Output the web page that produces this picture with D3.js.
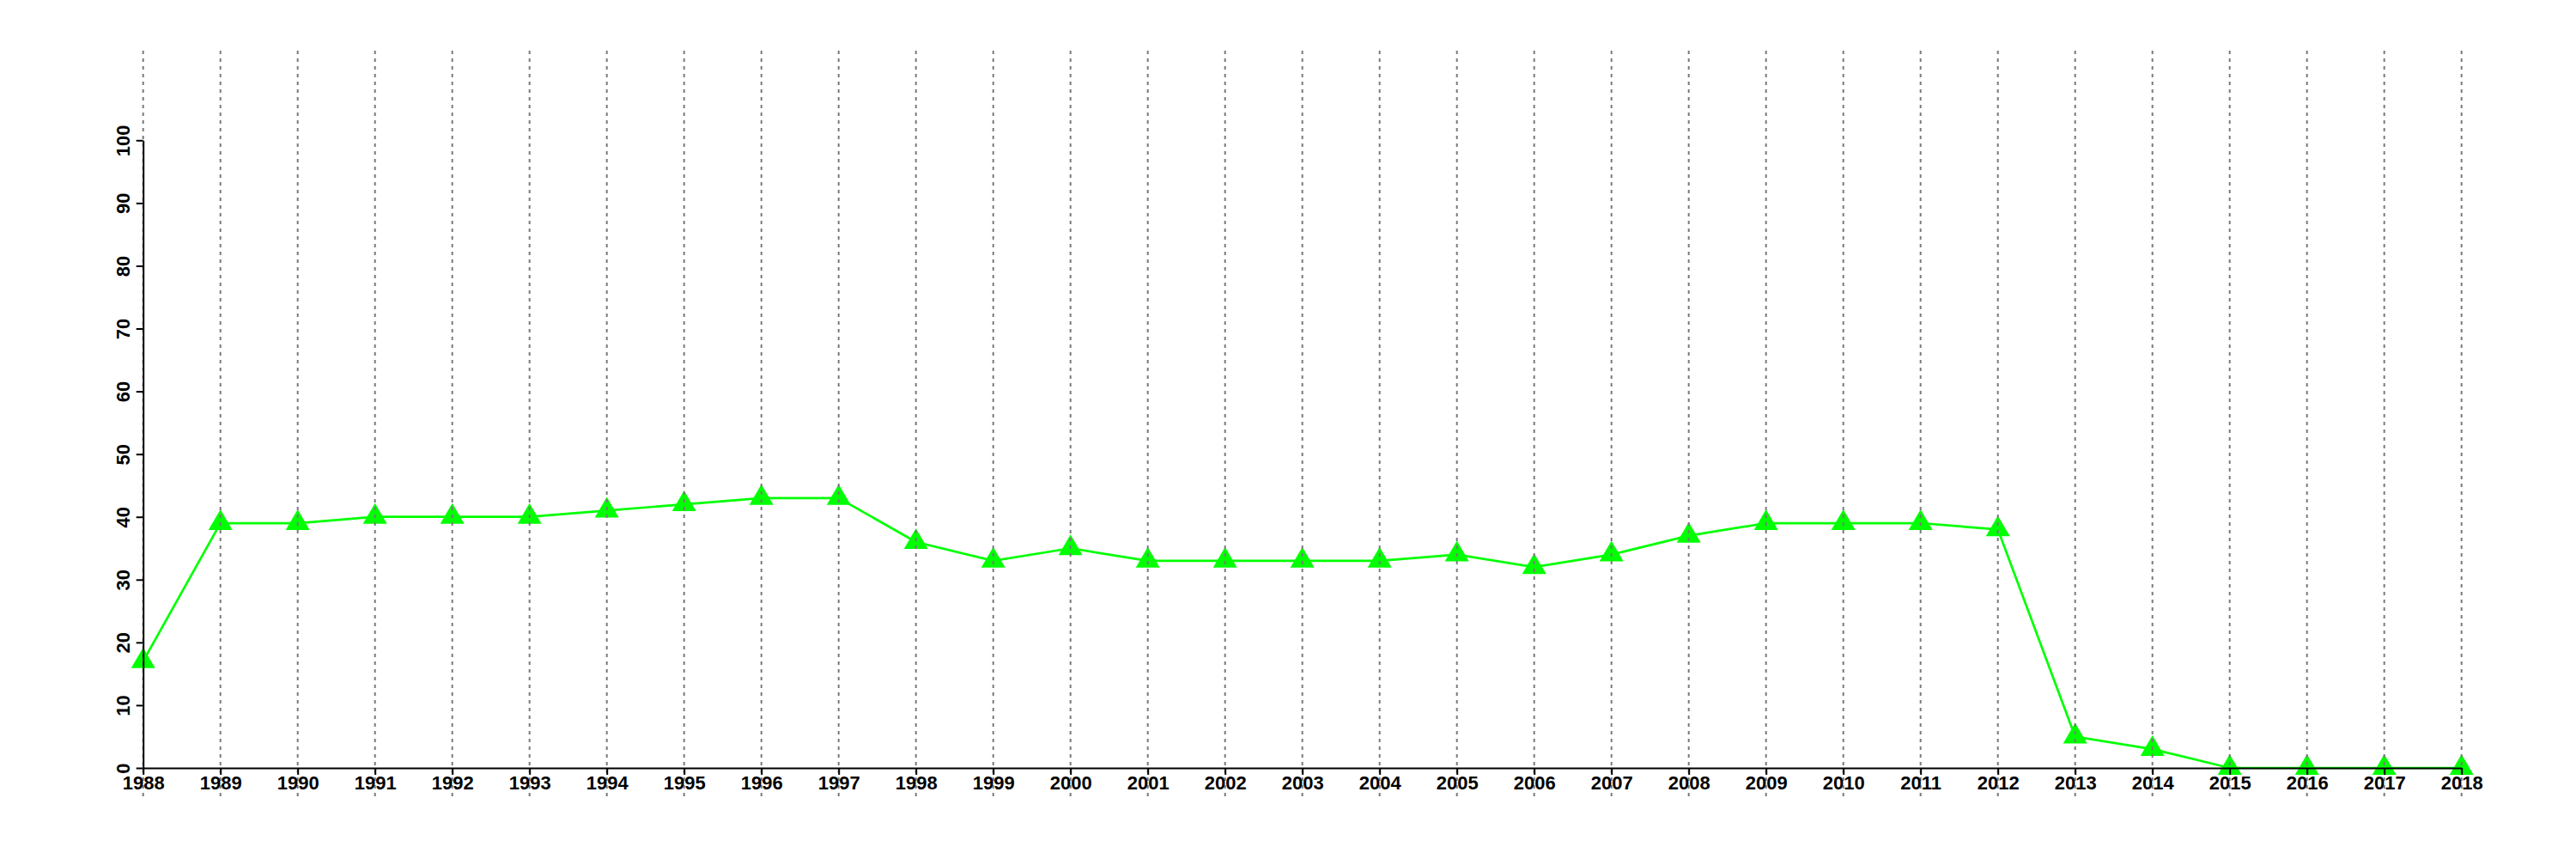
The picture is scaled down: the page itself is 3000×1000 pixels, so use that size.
<!DOCTYPE html>
<html><head><meta charset="utf-8">
<script src="https://cdn.jsdelivr.net/npm/d3@7"></script>
<style>body{margin:0;background:#fff}</style>
</head><body>
<script>
const years = [1988,1989,1990,1991,1992,1993,1994,1995,1996,1997,1998,1999,2000,2001,2002,2003,2004,2005,2006,2007,2008,2009,2010,2011,2012,2013,2014,2015,2016,2017,2018];
const values = [17,39,39,40,40,40,41,42,43,43,36,33,35,33,33,33,33,34,32,34,37,39,39,39,38,5,3,0,0,0,0];
const yTicks = [0,10,20,30,40,50,60,70,80,90,100];

const W = 3000, H = 1000;
const svg = d3.select("body").append("svg").attr("width", W).attr("height", H);
const x = d3.scaleLinear().domain([1988, 2018]).range([166.7, 2866.7]);
const y = d3.scaleLinear().domain([0, 100]).range([894, 163.3]);
const font = "'Liberation Sans', Arial, Helvetica, sans-serif";

// line
svg.append("path").datum(years.map((d, i) => [d, values[i]]))
  .attr("fill", "none").attr("stroke", "#00ff00").attr("stroke-width", 2.7)
  .attr("d", d3.line().x(d => x(d[0])).y(d => y(d[1])));

// triangles
const tw = 28, th = 24;
svg.append("g").selectAll("path").data(years.map((d, i) => [d, values[i]])).join("path")
  .attr("fill", "#00ff00")
  .attr("d", d => {
    const cx = x(d[0]), cy = y(d[1]);
    return `M${cx},${cy - th * 2 / 3}L${cx + tw / 2},${cy + th / 3}L${cx - tw / 2},${cy + th / 3}Z`;
  });

// gridlines
svg.append("g").selectAll("line").data(years).join("line")
  .attr("x1", d => x(d)).attr("x2", d => x(d))
  .attr("y1", 59).attr("y2", 928)
  .attr("stroke", "#7a7a7a").attr("stroke-width", 2).attr("stroke-dasharray", "4,5");

// x axis
const xa = svg.append("g").attr("transform", "translate(0,894)")
  .call(d3.axisBottom(x).tickValues(years).tickFormat(d3.format("d")).tickSize(8).tickSizeOuter(0));
xa.select(".domain").attr("stroke", "#000").attr("stroke-width", 2);
xa.selectAll(".tick line").attr("stroke", "#000").attr("stroke-width", 2);
xa.selectAll(".tick text").attr("font-family", font).attr("font-size", 22).attr("font-weight", "bold")
  .attr("fill", "#000").attr("y", 9).attr("dy", "0.71em");

// y axis
const ya = svg.append("g").attr("transform", "translate(166.7,0)")
  .call(d3.axisLeft(y).tickValues(yTicks).tickSize(8).tickSizeOuter(0));
ya.select(".domain").attr("stroke", "#000").attr("stroke-width", 2);
ya.selectAll(".tick line").attr("stroke", "#000").attr("stroke-width", 2);
ya.selectAll(".tick text").attr("font-family", font).attr("font-size", 22).attr("font-weight", "bold")
  .attr("fill", "#000").attr("x", 0).attr("dy", 0)
  .attr("text-anchor", "middle")
  .attr("transform", "translate(-16,0) rotate(-90)");
</script>
</body></html>
